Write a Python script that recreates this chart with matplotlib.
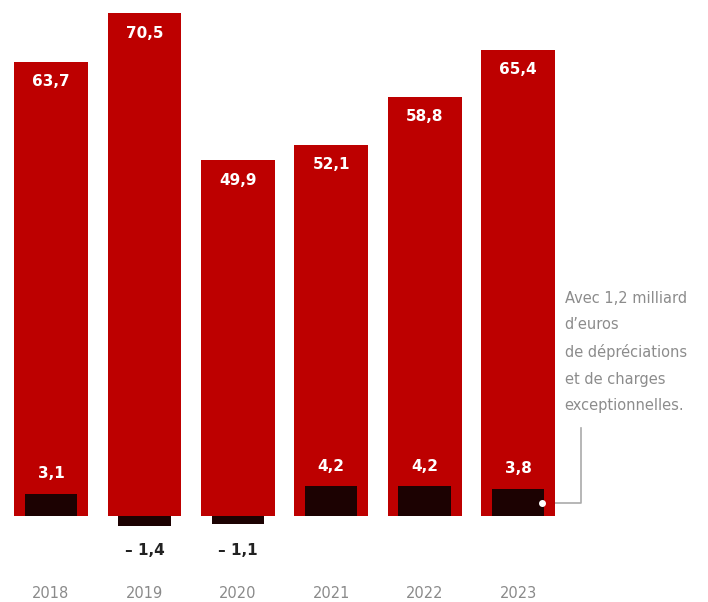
import numpy as np
import matplotlib.pyplot as plt

# Données (milliards d'euros)
annees = ['2018', '2019', '2020', '2021', '2022', '2023']
total = [63.7, 70.5, 49.9, 52.1, 58.8, 65.4]
resultat = [3.1, -1.4, -1.1, 4.2, 4.2, 3.8]

rouge = '#bd0000'
noir = '#1c0202'
gris = '#8a8a8a'

def fr(v):
    return f'{v:.1f}'.replace('.', ',')

fig = plt.figure(figsize=(7.08, 6.02), dpi=100)
ax = fig.add_axes([0, 0, 1, 1])

x = np.arange(len(annees))
ax.bar(x, total, width=0.79, color=rouge, zorder=1)
ax.bar(x, resultat, width=0.56, color=noir, zorder=2)

for xi, an, t, r in zip(x, annees, total, resultat):
    ax.text(xi, t - 2.8, fr(t), ha='center', va='center', color='white',
            fontsize=11, fontweight='bold')
    if r > 0:
        ax.text(xi, r + 2.8, fr(r), ha='center', va='center', color='white',
                fontsize=11, fontweight='bold')
    else:
        ax.text(xi, -4.8, '– ' + fr(-r), ha='center', va='center', color='#222222',
                fontsize=11, fontweight='bold')
    ax.text(xi, -10.8, an, ha='center', va='center', color=gris, fontsize=10.5)

# annotation 2023
ax.plot([5.26], [1.8], 'o', color='white', markersize=4, zorder=3)
ax.plot([5.26, 5.67, 5.67], [1.8, 1.8, 12.4], color='#aaaaaa', lw=1.2, zorder=0)
ax.text(5.50, 31.6, 'Avec 1,2 milliard\nd’euros\nde dépréciations\net de charges\nexceptionnelles.',
        ha='left', va='top', color='#8c8c8c', fontsize=10.5, linespacing=1.95)

ax.set_xlim(-0.546, 7.034)
ax.set_ylim(-12.06, 72.37)
ax.axis('off')

plt.savefig('out.png', dpi=100)
